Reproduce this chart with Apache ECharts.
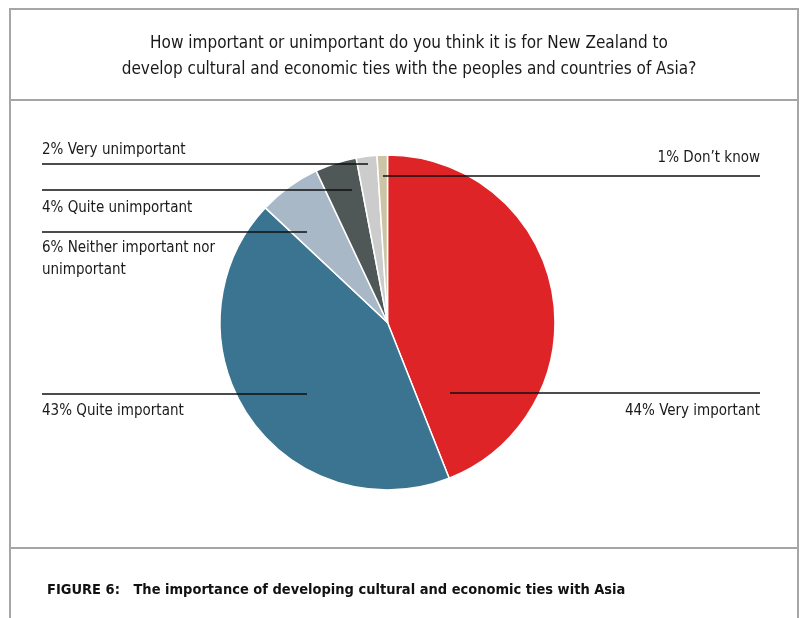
<!DOCTYPE html>
<html>
<head>
<meta charset="utf-8">
<script src="https://cdn.jsdelivr.net/npm/echarts@6/dist/echarts.min.js"></script>
<style>
  html, body { margin: 0; padding: 0; background: #fff; }
  #chart { width: 805px; height: 618px; }
</style>
</head>
<body>
<div id="chart"></div>
<script>
// Survey responses, clockwise from the top of the pie
const categories = [
  'Very important',
  'Quite important',
  'Neither important nor unimportant',
  'Quite unimportant',
  'Very unimportant',
  "Don\u2019t know"
];
const percentages = [44, 43, 6, 4, 2, 1];
const sliceColors = ['#df2427', '#3b7490', '#a9b8c6', '#4f5857', '#cccccc', '#cdc4a5'];

const questionText = 'How important or unimportant do you think it is for New Zealand to\ndevelop cultural and economic ties with the peoples and countries of Asia?';
const captionText = 'FIGURE 6:   The importance of developing cultural and economic ties with Asia';

const FONT = '"DejaVu Sans Condensed", "Liberation Sans", sans-serif';

// Callout placement for each slice: text anchor, leader line row and its inner end
const callouts = [
  { side: 'right', textY: 411, lineY: 393, innerX: 450 },
  { side: 'left',  textY: 411, lineY: 394, innerX: 307 },
  { side: 'left',  textY: 259, lineY: 232, innerX: 307 },
  { side: 'left',  textY: 208, lineY: 190, innerX: 352 },
  { side: 'left',  textY: 150, lineY: 164, innerX: 368 },
  { side: 'right', textY: 158, lineY: 176, innerX: 383 }
];
const LEFT_X = 42, RIGHT_X = 760;
const PIE_CENTER = [387.5, 322.5];
const PIE_RADIUS = 167.5;

const chart = echarts.init(document.getElementById('chart'), null, { renderer: 'canvas' });

const frameStyle = { stroke: '#a6a6a6', lineWidth: 2 };

const sliceData = categories.map((name, i) => ({
  name: name,
  value: percentages[i],
  itemStyle: { color: sliceColors[i] }
}));

chart.setOption({
  animation: false,
  backgroundColor: '#ffffff',
  title: {
    text: questionText,
    left: 404,
    top: 26,
    textAlign: 'center',
    textStyle: {
      fontFamily: FONT,
      fontSize: 17,
      fontWeight: 'normal',
      color: '#1a1a1a',
      lineHeight: 26
    }
  },
  graphic: [
    { type: 'line', shape: { x1: 10, y1: 9, x2: 798, y2: 9 }, style: frameStyle },
    { type: 'line', shape: { x1: 10, y1: 8, x2: 10, y2: 618 }, style: frameStyle },
    { type: 'line', shape: { x1: 798, y1: 8, x2: 798, y2: 618 }, style: frameStyle },
    { type: 'line', shape: { x1: 10, y1: 100, x2: 798, y2: 100 }, style: frameStyle },
    { type: 'line', shape: { x1: 10, y1: 548, x2: 798, y2: 548 }, style: frameStyle },
    {
      type: 'text', x: 47, y: 590,
      style: {
        text: captionText,
        fontFamily: FONT, fontSize: 14.5, fontWeight: 'bold',
        fill: '#111', verticalAlign: 'middle'
      }
    }
  ],
  series: [
    {
      // coloured slices
      type: 'pie',
      z: 2,
      center: PIE_CENTER,
      radius: PIE_RADIUS,
      startAngle: 90,
      clockwise: true,
      silent: true,
      itemStyle: { borderColor: '#ffffff', borderWidth: 1.5 },
      label: { show: false },
      labelLine: { show: false },
      emphasis: { disabled: true },
      data: sliceData
    },
    {
      // callouts: same slices, drawn above so the leader lines cross the pie
      type: 'pie',
      z: 3,
      center: PIE_CENTER,
      radius: PIE_RADIUS,
      startAngle: 90,
      clockwise: true,
      silent: true,
      avoidLabelOverlap: false,
      itemStyle: { color: 'rgba(0,0,0,0)', borderWidth: 0 },
      emphasis: { disabled: true },
      data: categories.map((name, i) => ({ name: name, value: percentages[i] })),
      label: {
        show: true,
        position: 'outside',
        formatter: p => p.value + '% ' + p.name,
        fontFamily: FONT,
        fontSize: 15,
        color: '#1a1a1a',
        lineHeight: 22,
        width: 190,
        overflow: 'break'
      },
      labelLine: {
        show: true,
        length: 10,
        length2: 10,
        lineStyle: { color: '#111', width: 1.3 }
      },
      labelLayout: function (params) {
        const c = callouts[params.dataIndex];
        const outerX = c.side === 'left' ? LEFT_X : RIGHT_X;
        return {
          x: outerX,
          y: c.textY,
          align: c.side,
          verticalAlign: 'middle',
          labelLinePoints: [
            [c.innerX, c.lineY],
            [(c.innerX + outerX) / 2, c.lineY],
            [outerX, c.lineY]
          ]
        };
      }
    }
  ]
});
</script>
</body>
</html>
